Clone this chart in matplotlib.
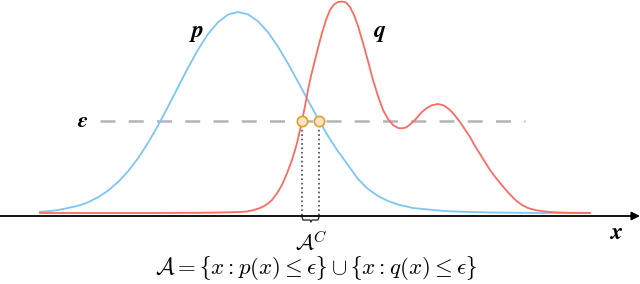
import matplotlib
matplotlib.use("Agg")
import matplotlib.pyplot as plt

plt.rcParams['mathtext.fontset'] = 'cm'

# curve samples (x in px, height above the axis in px)
p_x = [40, 50, 58, 68, 78, 88, 98, 108, 118, 128, 138, 148, 158, 168, 178,
       188, 198, 208, 218, 228, 238, 248, 258, 268, 278, 288, 298, 308, 318,
       328, 338, 348, 358, 368, 378, 388, 398, 413, 433, 447, 470, 490, 540, 590]
p_y = [4.2, 5, 6, 8, 10.2, 13.7, 18.7, 25.3, 33.9, 44.6, 57.7, 73.1, 90.4, 109.3, 128.8,
       148.2, 166.3, 181.9, 193.8, 201.4, 204, 201.6, 194.7, 183.7, 169.3, 152.5, 134.3, 115.6, 97.3,
       80, 64.6, 51, 37, 27, 20, 15, 11.5, 8, 6, 4.8, 4, 3.5, 3, 3]

q_x = [40, 150, 200, 225, 240, 247, 253, 258, 263, 268, 272, 277, 282, 287, 292,
       297, 302, 305, 308, 311, 315, 318, 322, 326, 330, 334, 338, 342, 346, 350,
       354, 358, 363, 368, 373, 378, 383, 388, 393, 398, 402, 406, 410, 414, 418,
       422, 427, 432, 438, 444, 450, 455, 460, 465, 470, 475, 480, 485, 490, 496,
       503, 510, 516, 522, 528, 536, 545, 555, 570, 590]
q_y = [3, 3, 3.2, 3.6, 4, 4.5, 5.8, 7.3, 9.3, 12.5, 16, 22.7, 31, 42.7, 56,
       72.7, 95, 110, 126, 140, 156, 168, 183, 196, 206, 211.5, 214, 214.5, 213.5, 209,
       201, 190, 173, 155, 136, 120, 106, 97, 91, 88, 87.7, 88.5, 91.5, 95, 99.5,
       104, 108, 110.8, 112, 110.5, 106, 100.5, 94, 86.5, 79, 70, 62, 54, 46, 38,
       29.5, 21.5, 15.5, 11, 8, 5.8, 4.5, 3.7, 3.2, 3]

eps = 95
eps_x = [302, 319]  # where the curves cross eps
eps_span = [100, 525]

fig = plt.figure(figsize=(6.4, 2.84), dpi=100)
ax = fig.add_axes([0, 0, 1, 1])
ax.set_xlim(0, 640)
ax.set_ylim(-68, 216)
ax.axis('off')

ax.plot(p_x, p_y, color='#7cc6f6', lw=1.3, zorder=3)
ax.plot(q_x, q_y, color='#f76d62', lw=1.3, zorder=3)

ax.plot(eps_span, [eps, eps], color='#b4b4b4', lw=1.8, dashes=(6, 5.3), zorder=1)

for xv in eps_x:
    ax.plot([xv, xv], [eps, 0], color='#444444', lw=1.2, ls=':', zorder=2)
ax.scatter(eps_x, [eps, eps], s=55, facecolor='#fde2c4', edgecolor='#e0a126',
           lw=1.2, zorder=5)

# x axis with arrow
ax.annotate('', xy=(640, 0), xytext=(0, 0),
            arrowprops=dict(arrowstyle='-|>', lw=1.3, color='black',
                            mutation_scale=12, shrinkA=0, shrinkB=0))

# small brace under the crossing points
bx = [eps_x[0], eps_x[0] + 1, 310, 311, 312, eps_x[1] - 1, eps_x[1]]
by = [-1, -4, -4, -6, -4, -4, -1]
ax.plot(bx, by, color='#222222', lw=0.9)

ax.text(197, 184, r'$\boldsymbol{p}$', fontsize=17, ha='center', va='center')
ax.text(380, 184, r'$\boldsymbol{q}$', fontsize=17, ha='center', va='center')
ax.text(83, eps, r'$\boldsymbol{\epsilon}$', fontsize=16, ha='center', va='center')
ax.text(616, -16, r'$\boldsymbol{x}$', fontsize=17, ha='center', va='center')
ax.text(311, -26, r'$\mathcal{A}^C$', fontsize=16, ha='center', va='center')
ax.text(316, -52, r'$\mathcal{A} = \lbrace x : p(x) \leq \epsilon\rbrace \cup \lbrace x : q(x) \leq \epsilon\rbrace$',
        fontsize=16.5, ha='center', va='center')

fig.savefig('out.png', dpi=100)
